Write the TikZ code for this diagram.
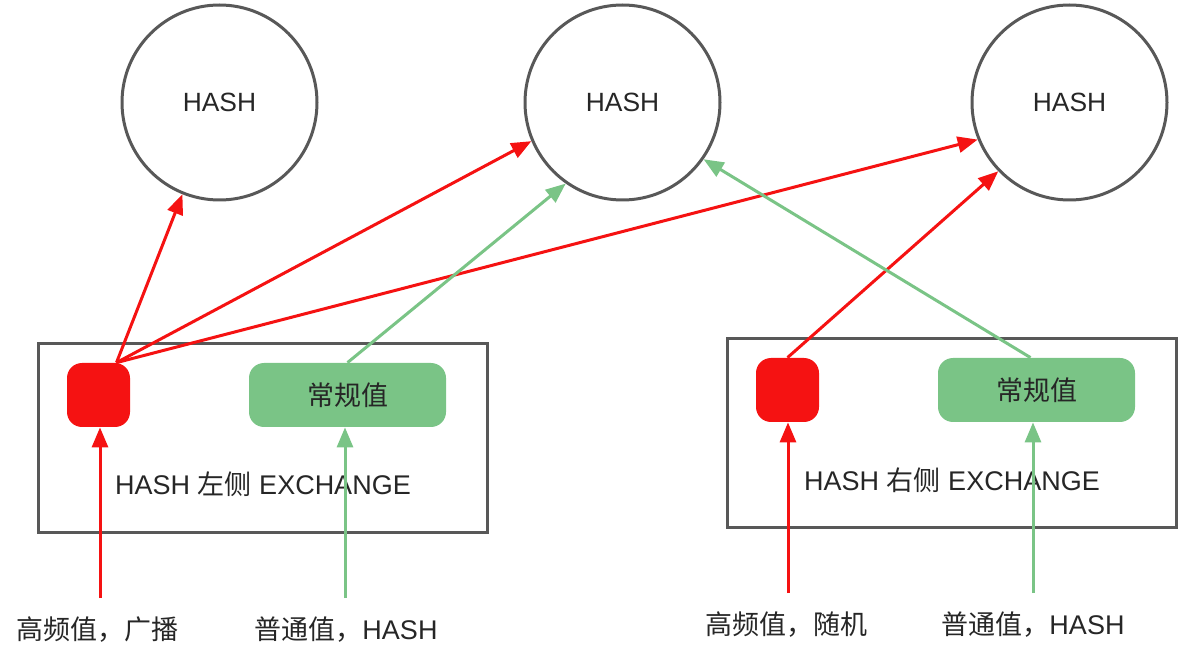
\documentclass[tikz,border=0pt]{standalone}
\usepackage{fontspec}
\setmainfont{Liberation Sans}
\newfontfamily\cjk{Noto Sans CJK SC}
\usetikzlibrary{arrows.meta}
\definecolor{hred}{RGB}{245,18,18}
\definecolor{hgreen}{RGB}{122,196,134}
\definecolor{hgray}{RGB}{88,88,88}
\definecolor{htext}{RGB}{38,38,38}
\begin{document}
\begin{tikzpicture}[x=0.5pt,y=-0.5pt,
  lbl/.style={font=\fontsize{13.5}{16}\selectfont, text=htext, inner sep=0},
  hashnode/.style={circle, draw=hgray, line width=1.5pt, minimum size=97.5pt, inner sep=0, font=\fontsize{13.2}{16}\selectfont, text=htext},
  exbox/.style={draw=hgray, line width=1.5pt, minimum width=224.5pt, minimum height=94pt, inner sep=0},
  hot/.style={fill=hred, rounded corners=7.5pt, minimum width=31.5pt, minimum height=32pt, inner sep=0},
  normal/.style={fill=hgreen, rounded corners=7.5pt, minimum width=98.5pt, minimum height=32pt, inner sep=0, font=\cjk\fontsize{13.5}{16}\selectfont, text=htext},
  redarr/.style={draw=hred, line width=1.5pt, -{Triangle[length=10pt,width=8pt]}},
  greenarr/.style={draw=hgreen, line width=1.5pt, -{Triangle[length=10pt,width=8pt]}}]
\useasboundingbox (0,0) rectangle (1190,668);

% hash circles
\node[hashnode] (h1) at (219.5,102.5) {HASH};
\node[hashnode] (h2) at (622.5,102.5) {HASH};
\node[hashnode] (h3) at (1069.5,102.5) {HASH};

% exchange boxes
\node[exbox] (bl) at (262.5,438) {};
\node[exbox] (br) at (951.5,433) {};
\node[lbl] (tl) at (263,484) {HASH {\cjk 左侧} EXCHANGE};
\node[lbl] (tr) at (952,480) {HASH {\cjk 右侧} EXCHANGE};

% inner nodes
\node[hot] (r1) at (98.5,395) {};
\node[normal] (g1) at (347.5,395) {常规值};
\node[hot] (r2) at (787.5,390) {};
\node[normal] (g2) at (1036.5,390) {常规值};

% bottom labels
\node[lbl, font=\cjk\fontsize{13.5}{16}\selectfont] (b1) at (98,630) {高频值，广播};
\node[lbl] (b2) at (346,630) {{\cjk 普通值，}HASH};
\node[lbl, font=\cjk\fontsize{13.5}{16}\selectfont] (b3) at (786,625) {高频值，随机};
\node[lbl] (b4) at (1033,625) {{\cjk 普通值，}HASH};

% arrow start coordinates
\coordinate (s1) at (100,598);
\coordinate (s2) at (345,598);
\coordinate (s3) at (788,593);
\coordinate (s4) at (1033,593);

% vertical arrows
\draw[redarr] (s1) -- (s1 |- r1.south);
\draw[greenarr] (s2) -- (s2 |- g1.south);
\draw[redarr] (s3) -- (s3 |- r2.south);
\draw[greenarr] (s4) -- (s4 |- g2.south);

% arrows to hash circles
\coordinate (o1) at ([xshift=9pt]r1.north);
\draw[redarr] (o1) -- (h1.248);
\draw[redarr] (o1) -- (h2.203);
\draw[redarr] (o1) -- (h3.202);
\draw[greenarr] (g1.north) -- (h2.235);
\draw[redarr] (r2.north) -- (h3.224);
\draw[greenarr] ([xshift=-3pt]g2.north) -- (h2.-35);
\end{tikzpicture}
\end{document}
